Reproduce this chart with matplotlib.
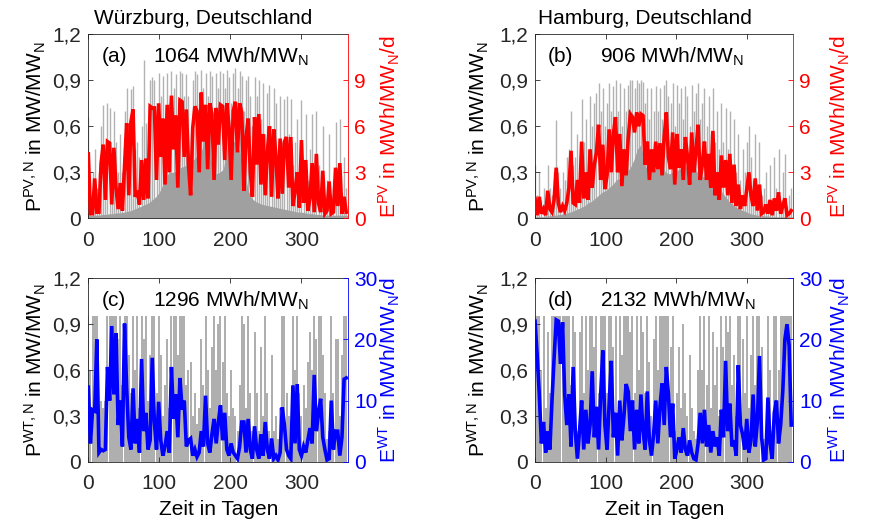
import numpy as np
import matplotlib
matplotlib.use("Agg")
import matplotlib.pyplot as plt
from matplotlib.ticker import FixedLocator, FixedFormatter

plt.rcParams['font.family'] = ['Liberation Sans', 'DejaVu Sans']
plt.rcParams['mathtext.fontset'] = 'custom'
plt.rcParams['mathtext.rm'] = 'Liberation Sans'
plt.rcParams['mathtext.it'] = 'Liberation Sans:italic'

# ---------------- data ----------------
days3 = np.arange(0, 366, 3)   # sample days for daily series
days5 = np.arange(0, 366, 5)   # sample days for base envelope

titles = ["Würzburg, Deutschland", "Hamburg, Deutschland"]
panel_tags = ["(a)", "(b)", "(c)", "(d)"]
panel_totals = ["1064", "906", "1296", "2132"]
left_ticks = [0, 0.3, 0.6, 0.9, 1.2]
left_ticklabels = ["0", "0,3", "0,6", "0,9", "1,2"]
pv_right_ticks = [0, 3, 6, 9]
wt_right_ticks = [0, 10, 20, 30]
x_ticks = [0, 100, 200, 300]

# daily PV energy (MWh/MW_N/d) Würzburg
red_a = [4.2, 0.3, 0.3, 2.6, 0.4, 0.4, 3.6, 4.8, 1.2, 5.0,
         4.9, 0.9, 4.6, 2.0, 0.6, 2.3, 0.5, 3.4, 6.2, 1.5,
         6.3, 7.1, 1.4, 1.8, 0.9, 3.8, 1.2, 3.9, 1.3, 7.3,
         7.2, 7.2, 2.5, 7.5, 4.0, 6.5, 2.2, 7.4, 3.0, 8.0,
         4.5, 6.7, 2.0, 7.7, 7.6, 4.0, 7.1, 3.5, 1.5, 5.9,
         7.3, 7.0, 3.0, 8.2, 5.0, 7.4, 3.2, 7.5, 6.8, 2.5,
         7.2, 4.8, 7.4, 7.3, 3.8, 7.5, 6.0, 2.5, 7.0, 7.6,
         4.3, 7.5, 6.9, 1.8, 5.3, 6.5, 3.0, 1.4, 6.6, 3.5,
         6.8, 2.2, 5.5, 1.5, 4.3, 6.0, 1.4, 5.8, 4.0, 1.3,
         5.2, 1.6, 5.0, 5.3, 2.0, 5.3, 0.8, 1.8, 3.0, 0.7,
         5.1, 1.0, 3.8, 0.5, 1.3, 3.6, 0.4, 4.2, 1.0, 0.4,
         3.1, 0.3, 0.5, 2.4, 0.3, 0.4, 3.3, 0.8, 3.6, 0.3,
         1.4, 0.4]
# daily PV peak power (MW/MW_N) Würzburg
peak_a = [0.66, 0.25, 0.3, 0.45, 0.2, 0.3, 0.6, 0.74, 0.4, 0.75,
          0.72, 0.35, 0.7, 0.5, 0.3, 0.55, 0.3, 0.7, 0.85, 0.45,
          0.84, 0.86, 0.45, 0.5, 0.4, 0.6, 1.03, 0.62, 0.45, 0.9,
          0.92, 0.9, 0.6, 0.95, 0.8, 0.93, 0.6, 0.95, 0.75, 0.96,
          0.85, 0.94, 0.6, 0.96, 0.95, 0.8, 0.94, 0.8, 0.55, 0.9,
          0.96, 0.94, 0.75, 0.97, 0.85, 0.95, 0.8, 0.96, 0.93, 0.7,
          0.95, 0.85, 0.96, 0.95, 0.85, 0.97, 0.92, 0.75, 0.95, 0.98,
          0.85, 0.96, 0.93, 0.7, 0.9, 0.93, 0.8, 0.6, 0.92, 0.8,
          0.9, 0.65, 0.88, 0.55, 0.82, 0.87, 0.5, 0.85, 0.75, 0.45,
          0.8, 0.5, 0.78, 0.8, 0.55, 0.78, 0.35, 0.5, 0.65, 0.3,
          0.77, 0.35, 0.68, 0.25, 0.45, 0.68, 0.2, 0.7, 0.35, 0.2,
          0.6, 0.15, 0.25, 0.55, 0.15, 0.2, 0.63, 0.3, 0.65, 0.15,
          0.4, 0.2]
# dense base level of hourly PV power, Würzburg
base_a = [0.02, 0.02, 0.02, 0.02, 0.025, 0.025, 0.03, 0.03, 0.035, 0.035,
          0.04, 0.045, 0.05, 0.06, 0.07, 0.08, 0.09, 0.1, 0.12, 0.14,
          0.17, 0.22, 0.28, 0.3, 0.3, 0.31, 0.33, 0.34, 0.35, 0.37,
          0.39, 0.42, 0.45, 0.56, 0.5, 0.3, 0.29, 0.3, 0.32, 0.45,
          0.52, 0.5, 0.48, 0.4, 0.3, 0.18, 0.13, 0.11, 0.1, 0.09,
          0.085, 0.08, 0.075, 0.07, 0.065, 0.06, 0.055, 0.05, 0.045, 0.04,
          0.04, 0.035, 0.03, 0.03, 0.025, 0.025, 0.02, 0.02, 0.02, 0.02,
          0.02, 0.02, 0.02, 0.02]

# Hamburg PV
red_b = [1.3, 0.2, 1.4, 0.3, 0.6, 0.2, 1.8, 0.6, 0.4, 1.2,
         3.3, 1.0, 0.4, 0.8, 0.5, 1.0, 2.0, 4.4, 1.0, 0.9,
         2.5, 1.0, 5.0, 1.3, 3.0, 1.2, 4.5, 2.0, 3.5, 4.3,
         6.1, 2.5, 4.8, 1.9, 2.8, 5.8, 3.0, 5.5, 6.6, 3.0,
         5.5, 2.1, 4.5, 2.8, 5.2, 6.8, 6.6, 5.6, 6.9, 6.0,
         6.8, 6.7, 3.5, 5.0, 2.5, 4.5, 3.0, 5.0, 3.2, 4.9,
         2.8, 5.3, 6.9, 4.0, 3.2, 5.6, 2.2, 5.5, 3.3, 4.5,
         2.5, 5.3, 4.0, 2.2, 5.6, 3.0, 4.4, 6.1, 2.5, 3.5,
         5.0, 2.5, 4.2, 2.0, 5.7, 1.5, 3.0, 1.2, 4.1, 2.0,
         3.8, 1.5, 4.2, 1.0, 3.5, 0.8, 2.2, 0.6, 1.5, 0.8,
         1.9, 3.0, 1.5, 0.8, 2.6, 0.5, 2.2, 0.3, 0.4, 0.9,
         0.3, 1.2, 0.2, 1.3, 0.5, 1.7, 0.3, 0.8, 1.3, 0.2,
         0.3, 0.5]
peak_b = [0.35, 0.15, 0.3, 0.12, 0.2, 0.1, 0.35, 0.2, 0.15, 0.3,
          0.64, 0.3, 0.2, 0.3, 0.25, 0.4, 0.45, 0.7, 0.35, 0.4,
          0.55, 0.4, 0.78, 0.5, 0.65, 0.45, 0.8, 0.6, 0.75, 0.82,
          0.88, 0.7, 0.85, 0.6, 0.75, 0.88, 0.7, 0.86, 0.9, 0.7,
          0.88, 0.6, 0.85, 0.7, 0.87, 0.9, 0.9, 0.85, 0.9, 0.88,
          0.9, 0.89, 0.75, 0.85, 0.65, 0.85, 0.7, 0.86, 0.7, 0.85,
          0.65, 0.87, 0.9, 0.8, 0.75, 0.88, 0.6, 0.87, 0.75, 0.85,
          0.65, 0.86, 0.8, 0.6, 0.87, 0.7, 0.82, 0.88, 0.65, 0.75,
          0.85, 0.6, 0.8, 0.55, 0.85, 0.5, 0.7, 0.45, 0.75, 0.5,
          0.72, 0.45, 0.7, 0.35, 0.65, 0.3, 0.55, 0.25, 0.45, 0.3,
          0.5, 0.6, 0.4, 0.25, 0.55, 0.2, 0.5, 0.15, 0.2, 0.3,
          0.12, 0.35, 0.1, 0.4, 0.2, 0.45, 0.12, 0.3, 0.42, 0.08,
          0.15, 0.2]
base_b = [0.01, 0.01, 0.01, 0.015, 0.015, 0.02, 0.02, 0.025, 0.03, 0.035,
          0.04, 0.05, 0.06, 0.07, 0.08, 0.1, 0.11, 0.13, 0.15, 0.17,
          0.18, 0.2, 0.22, 0.25, 0.26, 0.28, 0.3, 0.33, 0.38, 0.45,
          0.48, 0.35, 0.31, 0.3, 0.32, 0.33, 0.34, 0.3, 0.29, 0.3,
          0.31, 0.32, 0.33, 0.34, 0.35, 0.33, 0.3, 0.28, 0.27, 0.25,
          0.24, 0.22, 0.2, 0.17, 0.14, 0.11, 0.09, 0.07, 0.06, 0.05,
          0.04, 0.03, 0.025, 0.02, 0.02, 0.015, 0.015, 0.01, 0.01, 0.01,
          0.01, 0.01, 0.01, 0.01]

# Würzburg wind
blue_c = [12.2, 3.0, 8.5, 8.3, 20.0, 1.5, 2.0, 1.8, 2.0, 15.5,
          10.0, 22.2, 11.0, 21.0, 6.0, 10.0, 2.5, 22.6, 12.0, 4.0,
          2.0, 12.0, 3.0, 7.0, 1.5, 16.8, 5.0, 8.0, 2.0, 3.5,
          17.0, 6.5, 2.0, 9.8, 3.5, 1.0, 2.5, 5.0, 1.5, 15.5,
          7.0, 11.0, 4.0, 13.7, 8.5, 10.0, 2.5, 3.5, 3.8, 1.0,
          2.0, 0.8, 1.5, 5.0, 2.5, 10.8, 3.0, 1.5, 4.5, 7.0,
          3.0, 6.5, 9.2, 3.5, 8.0, 2.0, 1.0, 3.0, 1.5, 1.0,
          0.5, 2.5, 6.5, 6.5, 1.5, 7.0, 2.0, 0.5, 5.8, 2.0,
          0.5, 4.5, 1.0, 6.5, 2.0, 0.5, 3.8, 0.5, 1.0, 0.3,
          1.5, 8.9, 6.0, 2.0, 1.0, 0.5, 12.5, 3.0, 12.7, 2.0,
          1.0, 2.5, 1.5, 3.5, 5.5, 3.0, 14.2, 5.0, 8.0, 10.3,
          4.0, 2.0, 0.3, 0.5, 10.0, 2.0, 5.0, 5.0, 1.0, 4.0,
          13.5, 13.7]
peak_c = [0.955, 0.6, 0.955, 0.955, 0.955, 0.3, 0.4, 0.35, 0.4, 0.955,
          0.955, 0.955, 0.955, 0.955, 0.8, 0.955, 0.5, 0.955, 0.955, 0.7,
          0.45, 0.955, 0.6, 0.955, 0.35, 0.955, 0.8, 0.955, 0.4, 0.7,
          0.955, 0.955, 0.45, 0.955, 0.7, 0.3, 0.5, 0.8, 0.35, 0.955,
          0.955, 0.955, 0.7, 0.955, 0.955, 0.955, 0.5, 0.6, 0.65, 0.3,
          0.45, 0.25, 0.35, 0.8, 0.5, 0.955, 0.6, 0.35, 0.75, 0.955,
          0.6, 0.9, 0.955, 0.65, 0.955, 0.45, 0.3, 0.6, 0.35, 0.3,
          0.2, 0.5, 0.955, 0.9, 0.35, 0.955, 0.45, 0.2, 0.85, 0.45,
          0.2, 0.75, 0.3, 0.955, 0.45, 0.2, 0.7, 0.2, 0.3, 0.15,
          0.35, 0.955, 0.955, 0.45, 0.3, 0.2, 0.955, 0.6, 0.955, 0.45,
          0.3, 0.5, 0.35, 0.65, 0.85, 0.6, 0.955, 0.8, 0.955, 0.955,
          0.7, 0.45, 0.15, 0.2, 0.955, 0.45, 0.8, 0.8, 0.3, 0.7,
          0.955, 0.955]

# Hamburg wind
blue_d = [23.0, 17.5, 11.0, 3.0, 6.5, 1.5, 5.0, 2.0, 10.0, 17.0,
          23.2, 23.0, 16.0, 22.8, 11.0, 6.0, 11.0, 2.5, 15.5, 5.0,
          0.5, 5.0, 10.0, 2.0, 8.5, 3.0, 6.0, 14.8, 4.0, 9.0,
          2.0, 11.0, 18.2, 6.0, 2.0, 9.5, 16.5, 4.0, 8.0, 1.0,
          10.0, 3.5, 7.5, 12.7, 11.5, 5.0, 10.0, 2.0, 8.5, 3.0,
          11.0, 5.0, 2.0, 11.5, 3.5, 1.0, 4.5, 10.0, 3.0, 9.0,
          12.8, 6.0, 15.5, 11.0, 4.0, 9.5, 0.5, 2.0, 4.0, 1.5,
          5.5, 2.0, 1.0, 3.5, 1.5, 0.5, 0.3, 3.0, 8.0, 3.0,
          8.5, 2.5, 6.0, 1.5, 5.0, 2.5, 4.0, 1.0, 8.5, 4.0,
          16.5, 5.0, 9.5, 2.5, 3.5, 1.0, 15.8, 6.0, 4.5, 2.0,
          7.0, 1.5, 3.5, 11.0, 2.5, 6.5, 17.3, 4.0, 0.3, 0.5,
          10.5, 3.0, 0.5, 8.0, 10.0, 3.0, 6.0, 11.5, 20.0, 22.5,
          19.0, 6.0]
peak_d = [0.955, 0.955, 0.955, 0.6, 0.955, 0.35, 0.85, 0.45, 0.955, 0.955,
          0.955, 0.955, 0.955, 0.955, 0.955, 0.955, 0.955, 0.5, 0.955, 0.85,
          0.2, 0.85, 0.955, 0.45, 0.955, 0.6, 0.955, 0.955, 0.75, 0.955,
          0.45, 0.955, 0.955, 0.955, 0.45, 0.955, 0.955, 0.75, 0.955, 0.3,
          0.955, 0.7, 0.955, 0.955, 0.955, 0.85, 0.955, 0.45, 0.955, 0.6,
          0.955, 0.85, 0.45, 0.955, 0.65, 0.3, 0.8, 0.955, 0.6, 0.955,
          0.955, 0.955, 0.955, 0.955, 0.75, 0.955, 0.2, 0.45, 0.75, 0.35,
          0.9, 0.45, 0.3, 0.7, 0.35, 0.2, 0.15, 0.6, 0.955, 0.6,
          0.955, 0.5, 0.955, 0.35, 0.85, 0.5, 0.75, 0.3, 0.955, 0.75,
          0.955, 0.85, 0.955, 0.5, 0.7, 0.3, 0.955, 0.955, 0.8, 0.45,
          0.955, 0.35, 0.7, 0.955, 0.5, 0.955, 0.955, 0.75, 0.15, 0.2,
          0.955, 0.6, 0.2, 0.955, 0.955, 0.6, 0.955, 0.955, 0.955, 0.955,
          0.955, 0.955]

# ---------------- figure ----------------
FS = 15
fig = plt.figure(figsize=(8.7, 5.26), dpi=100)

positions = [[0.1015, 0.585, 0.2989, 0.3498],
             [0.615, 0.585, 0.2969, 0.3498],
             [0.1015, 0.1222, 0.2989, 0.3487],
             [0.615, 0.1222, 0.2969, 0.3487]]

panels = [
    dict(kind='PV', peak=peak_a, base=base_a, daily=red_a),
    dict(kind='PV', peak=peak_b, base=base_b, daily=red_b),
    dict(kind='WT', peak=peak_c, base=None, daily=blue_c),
    dict(kind='WT', peak=peak_d, base=None, daily=blue_d),
]

for i, (pos, p) in enumerate(zip(positions, panels)):
    ax = fig.add_axes(pos)
    ax2 = ax.twinx()
    pv = p['kind'] == 'PV'
    col = '#ff0000' if pv else '#0000ff'

    # gray hourly power
    if pv:
        ax.vlines(days3, 0, p['peak'], color='0.5', alpha=0.6, lw=1.0, zorder=1)
        ax.fill_between(days5, 0, p['base'], color='#a0a0a0', lw=0, zorder=2)
    else:
        ax.vlines(days3, 0, p['peak'], color='0.5', alpha=0.75, lw=1.2, zorder=1)

    ax2.plot(days3, p['daily'], color=col, lw=2.6, solid_joinstyle='miter')

    ax.set_xlim(0, 366)
    ax.set_ylim(0, 1.2)
    ax.yaxis.set_major_locator(FixedLocator(left_ticks))
    ax.yaxis.set_major_formatter(FixedFormatter(left_ticklabels))
    ax.xaxis.set_major_locator(FixedLocator(x_ticks))
    ax.tick_params(axis='both', direction='in', length=3.5, width=0.6,
                   labelsize=FS, top=True, right=False, colors='#262626')
    ax.tick_params(axis='y', pad=5)
    ax.tick_params(axis='x', pad=9)
    for s in ['left', 'top', 'bottom']:
        ax.spines[s].set_color('#262626')
        ax.spines[s].set_linewidth(0.6)
    ax.spines['right'].set_visible(False)

    if pv:
        ax2.set_ylim(0, 12)
        ax2.set_yticks(pv_right_ticks)
        ax2.set_yticklabels([str(t) for t in pv_right_ticks])
    else:
        ax2.set_ylim(0, 30)
        ax2.set_yticks(wt_right_ticks)
        ax2.set_yticklabels([str(t) for t in wt_right_ticks])
    ax2.tick_params(axis='y', direction='in', length=3.5, width=0.6,
                    labelsize=FS, colors=col, pad=4)
    for s in ['left', 'top', 'bottom']:
        ax2.spines[s].set_visible(False)
    ax2.spines['right'].set_color(col)
    ax2.spines['right'].set_linewidth(0.6)

    if pv:
        ax.set_ylabel(r'$\mathrm{P}^{\mathrm{PV,N}}$ in MW/MW$_\mathrm{N}$', fontsize=FS)
        ax2.set_ylabel(r'$\mathrm{E}^{\mathrm{PV}}$ in MWh/MW$_\mathrm{N}$/d',
                       fontsize=FS, color=col)
    else:
        ax.set_ylabel(r'$\mathrm{P}^{\mathrm{WT,N}}$ in MW/MW$_\mathrm{N}$', fontsize=FS)
        ax2.set_ylabel(r'$\mathrm{E}^{\mathrm{WT}}$ in MWh/MW$_\mathrm{N}$/d',
                       fontsize=FS, color=col)
        ax.set_xlabel('Zeit in Tagen', fontsize=FS, labelpad=5)

    if i % 2 == 0:
        ax.yaxis.set_label_coords(-0.155, 0.5)
        ax2.yaxis.set_label_coords(1.11, 0.5)
    else:
        ax.yaxis.set_label_coords(-0.17, 0.5)
        ax2.yaxis.set_label_coords(1.13, 0.5)

    ax.text(0.05, 0.877, panel_tags[i], transform=ax.transAxes, fontsize=FS,
            va='center', ha='left', zorder=5)
    ax.text(0.25, 0.877, panel_totals[i] + r' MWh/MW$_\mathrm{N}$',
            transform=ax.transAxes, fontsize=FS, va='center', ha='left', zorder=5)

fig.text(94 / 870, 1 - 18 / 526, titles[0], fontsize=FS, ha='left', va='center')
fig.text(538 / 870, 1 - 18 / 526, titles[1], fontsize=FS, ha='left', va='center')

fig.savefig('out.png', dpi=100)
